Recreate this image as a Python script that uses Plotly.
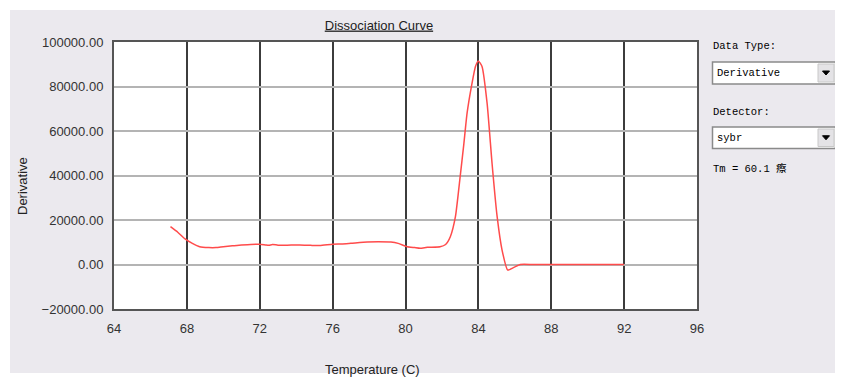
import plotly.graph_objects as go

# ---------------- data ----------------
temperature = [67.1, 67.5, 67.9, 68.3, 68.7, 69.2, 69.6, 70.0, 70.5, 71.0, 71.5, 72.0,
               72.3, 72.5, 72.7, 73.0, 73.5, 74.2, 74.8, 75.3, 76.0, 76.5, 77.0, 77.9,
               78.5, 79.2, 79.6, 80.1, 80.5, 80.8, 81.2, 81.9, 82.2, 82.46, 82.74, 83.0,
               83.2, 83.38, 83.65, 83.84, 84.0, 84.2, 84.48, 84.75, 85.03, 85.3, 85.61,
               85.95, 86.3, 87.0, 88.0, 89.0, 90.0, 91.0, 92.0]
derivative = [17000, 14500, 11500, 9500, 8000, 7600, 7600, 8000, 8400, 8800, 9000, 9100,
              8800, 8600, 9000, 8700, 8700, 8800, 8600, 8500, 9100, 9200, 9500, 10100,
              10200, 10100, 9500, 8000, 7600, 7300, 7700, 8000, 9000, 12500, 21500, 39500,
              54000, 68000, 81400, 89000, 91500, 89000, 72400, 45500, 21500, 6500, -2500,
              -1300, 0, 0, 0, 0, 0, 0, 0]
x_ticks = [64, 68, 72, 76, 80, 84, 88, 92, 96]
y_ticks = [-20000, 0, 20000, 40000, 60000, 80000, 100000]

chart_title = "Dissociation Curve"
x_title = "Temperature (C)"
y_title = "Derivative"
data_type_label = "Data Type:"
data_type_value = "Derivative"
detector_label = "Detector:"
detector_value = "sybr"
tm_text = "Tm = 60.1 瘵"

# ---------------- layout geometry (page pixels; page body has an 8px margin) ----------------
OFF = 8
PAGE_W, PAGE_H = 843, 377
W, H = PAGE_W - OFF, PAGE_H - OFF
L, R, T, B = 114, 697, 42, 309          # plot area in page pixels
PW, PH = R - L, B - T


def px(x):
    return (x - L) / PW


def py(y):
    return (B - y) / PH


GRAY = "#EBE9EE"
MONO = "Liberation Mono, Noto Sans CJK SC, monospace"
SANS = "Liberation Sans, Arial, sans-serif"

fig = go.Figure()
fig.add_trace(go.Scatter(x=temperature, y=derivative, mode="lines",
                         line=dict(color="#FF4B4B", width=1.5, shape="spline", smoothing=0.5),
                         showlegend=False, hoverinfo="skip"))

shapes = []
# white outer border strips (page coords)
for (x0, y0, x1, y1) in [(0, 0, PAGE_W + 5, 10), (0, 0, 10, PAGE_H + 5),
                         (0, 373, PAGE_W + 5, PAGE_H + 5)]:
    shapes.append(dict(type="rect", xref="paper", yref="paper", layer="above",
                       x0=px(x0), x1=px(x1), y0=py(y0), y1=py(y1),
                       fillcolor="white", line=dict(width=0)))


def dropdown(y0, y1):
    x0, x1 = 712.5, 835.5
    out = []
    out.append(dict(type="rect", xref="paper", yref="paper",
                    x0=px(x0), x1=px(x1), y0=py(y0), y1=py(y1),
                    fillcolor="white", line=dict(color="#8A8A8A", width=1.5)))
    out.append(dict(type="rect", xref="paper", yref="paper",
                    x0=px(818), x1=px(834), y0=py(y0 + 2), y1=py(y1 - 2),
                    fillcolor="#E4E3E6", line=dict(color="#C8C8C8", width=1)))
    cy = (y0 + y1) / 2
    tri = "M {} {} L {} {} L {} {} Z".format(px(822.5), py(cy - 2), px(829.5), py(cy - 2),
                                            px(826), py(cy + 2))
    out.append(dict(type="path", xref="paper", yref="paper", path=tri,
                    fillcolor="black", line=dict(color="black", width=1)))
    return out


shapes += dropdown(62, 84)
shapes += dropdown(127, 148.5)

annotations = []


def label(text, x, y, size=10.5, font=MONO, anchor="left", color="black", angle=0):
    annotations.append(dict(text=text, xref="paper", yref="paper", x=px(x), y=py(y),
                            xanchor=anchor, yanchor="middle", showarrow=False,
                            textangle=angle,
                            font=dict(family=font, size=size, color=color)))


label(data_type_label, 711, 46)
label(data_type_value, 715, 73)
label(detector_label, 711, 112)
label(detector_value, 715, 138)
label(tm_text, 711, 168)
# axis titles
label(x_title, 372, 370, size=13, font=SANS, anchor="center", color="#222222")
label(y_title, 22, 186, size=13, font=SANS, anchor="center", color="#222222", angle=-90)

axis_common = dict(showline=True, mirror=True, linecolor="#555555", linewidth=2,
                   ticks="", zeroline=False, automargin=False,
                   tickfont=dict(family=SANS, size=13, color="#333333"))

fig.update_layout(
    width=W, height=H,
    margin=dict(l=L - OFF, r=PAGE_W - R, t=T - OFF, b=PAGE_H - B, pad=0, autoexpand=False),
    paper_bgcolor=GRAY, plot_bgcolor="white",
    title=dict(text="<u>" + chart_title + "</u>", x=px(373), y=1 - (25 - OFF) / H,
               xanchor="center", yanchor="middle",
               font=dict(family=SANS, size=13, color="#222222")),
    xaxis=dict(range=[64, 96], tickvals=x_ticks, ticktext=[str(v) for v in x_ticks],
               showgrid=True, gridcolor="#3C3C3C", gridwidth=1.5,
               ticklabelstandoff=6, **axis_common),
    yaxis=dict(range=[-20000, 100000], tickvals=y_ticks, tickformat=".2f",
               showgrid=True, gridcolor="#B4B4B4", gridwidth=1.5,
               ticklabelstandoff=6, **axis_common),
    shapes=shapes,
    annotations=annotations,
)

fig.write_html("out.html")
